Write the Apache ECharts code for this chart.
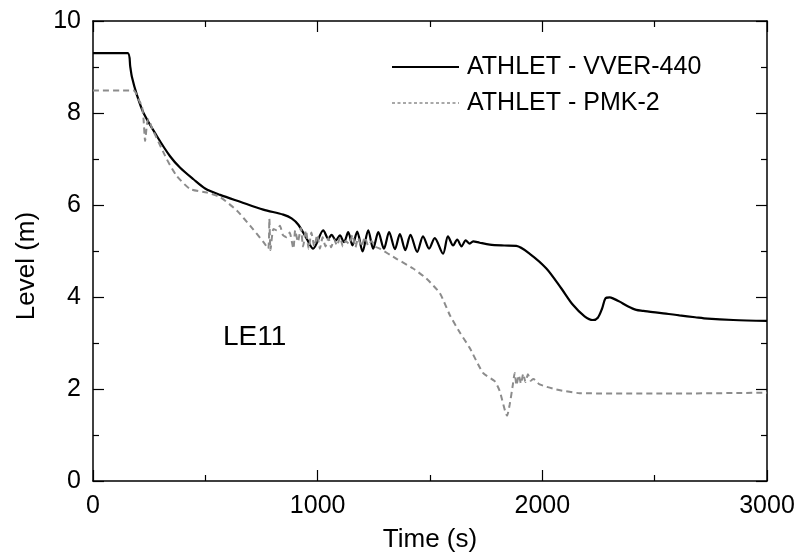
<!DOCTYPE html>
<html>
<head>
<meta charset="utf-8">
<script src="https://cdn.jsdelivr.net/npm/echarts@6/dist/echarts.min.js"></script>
<style>html,body{margin:0;padding:0;background:#fff}#c{width:806px;height:558px}</style>
</head>
<body>
<div id="c"></div>
<script>
var xTicks = [0, 1000, 2000, 3000];
var yTicks = [0, 2, 4, 6, 8, 10];
var seriesNames = ['ATHLET - VVER-440', 'ATHLET - PMK-2'];
var caseLabel = 'LE11';

var vverT = [0, 154, 166, 173, 195, 225, 284, 343, 388, 447, 499, 566, 655, 758, 847, 884, 914, 951, 980,
  1025, 1047, 1062, 1081, 1099, 1117, 1136, 1155, 1176, 1200, 1225, 1247, 1270, 1295, 1318, 1344, 1366, 1390,
  1413, 1443, 1469, 1496, 1521, 1558, 1580, 1603, 1621, 1640, 1659, 1677, 1692, 1721, 1766, 1830, 1884, 1944,
  2018, 2084, 2136, 2188, 2225, 2247, 2266, 2281, 2300, 2314, 2344, 2380, 2418, 2450, 2492, 2550, 2610, 2680, 2736, 2850, 3000];
var vverL = [9.30, 9.30, 9.00, 8.79, 8.40, 8.00, 7.50, 7.06, 6.81, 6.56, 6.36, 6.22, 6.07, 5.90, 5.79, 5.71, 5.57, 5.27, 5.05,
  5.45, 5.27, 5.35, 5.23, 5.34, 5.19, 5.41, 5.12, 5.42, 4.99, 5.45, 5.05, 5.41, 5.05, 5.41, 5.04, 5.37, 5.02,
  5.35, 4.98, 5.32, 5.05, 5.28, 4.94, 5.32, 5.12, 5.25, 5.10, 5.23, 5.16, 5.21, 5.18, 5.14, 5.12, 5.11, 4.94,
  4.62, 4.19, 3.83, 3.58, 3.50, 3.55, 3.75, 3.97, 3.99, 3.97, 3.90, 3.80, 3.72, 3.70, 3.67, 3.64, 3.60, 3.56, 3.53, 3.50, 3.48];

var pmkT = [0, 181, 203, 218, 225, 232, 240, 247, 262, 329, 373, 432, 507, 566, 640, 699, 758, 780, 785, 790,
  803, 818, 832, 845, 862, 875, 892, 900, 912, 925, 935, 948, 960, 972, 985, 998, 1010, 1022, 1035, 1048, 1060,
  1073, 1086, 1100, 1112, 1125, 1140, 1155, 1168, 1180, 1195, 1210, 1225, 1240, 1255, 1277, 1351, 1425, 1484,
  1544, 1588, 1630, 1677, 1736, 1788, 1810, 1843, 1855, 1869, 1877, 1885, 1895, 1905, 1915, 1925, 1936, 1948,
  1960, 1988, 2062, 2166, 2536, 3000];
var pmkL = [8.49, 8.49, 8.29, 8.14, 7.86, 7.39, 7.75, 7.86, 7.68, 6.99, 6.63, 6.35, 6.27, 6.17, 5.88, 5.55, 5.20, 5.05, 5.70, 5.02,
  5.48, 5.45, 5.55, 5.35, 5.30, 5.40, 5.05, 5.45, 5.20, 5.50, 5.10, 5.45, 5.05, 5.40, 5.10, 5.35, 5.05, 5.30, 5.10, 5.28, 5.08,
  5.25, 5.12, 5.30, 5.10, 5.22, 5.15, 5.35, 5.08, 5.28, 5.10, 5.30, 5.12, 5.22, 5.10, 5.05, 4.83, 4.62, 4.40,
  4.08, 3.61, 3.25, 2.89, 2.35, 2.17, 1.96, 1.42, 1.67, 2.10, 2.35, 2.08, 2.30, 2.12, 2.33, 2.15, 2.32, 2.18,
  2.22, 2.10, 1.99, 1.91, 1.90, 1.92];

function zip(a, b) { var r = []; for (var i = 0; i < a.length; i++) r.push([a[i], b[i]]); return r; }

var FONT = '"Liberation Sans", Arial, sans-serif';
var BLACK = '#000';
var GRAY = '#8c8c8c';
var axisCommon = {
  axisLine: { show: true, onZero: false, lineStyle: { color: '#000', width: 1.5 } },
  axisTick: { show: true, inside: true, length: 11, lineStyle: { color: '#000', width: 1.2 } },
  minorTick: { show: true, splitNumber: 2, length: 6, lineStyle: { color: '#000', width: 1.2 } },
  splitLine: { show: false },
  minorSplitLine: { show: false }
};
function ax(extra) { return Object.assign({}, JSON.parse(JSON.stringify(axisCommon)), extra); }
function plain(v) { return String(v); }

var chart = echarts.init(document.getElementById('c'), null, { renderer: 'canvas' });
chart.setOption({
  animation: false,
  backgroundColor: '#fff',
  grid: { left: 93, right: 39, top: 21, bottom: 74, containLabel: false },
  xAxis: [
    ax({ type: 'value', min: xTicks[0], max: xTicks[xTicks.length - 1], interval: 1000, position: 'bottom',
      name: 'Time (s)', nameLocation: 'middle', nameGap: 46,
      nameTextStyle: { fontFamily: FONT, fontSize: 26, color: '#000' },
      axisLabel: { show: true, margin: 13, fontFamily: FONT, fontSize: 25, color: '#000', formatter: plain } }),
    ax({ type: 'value', min: xTicks[0], max: xTicks[xTicks.length - 1], interval: 1000, position: 'top',
      axisLabel: { show: false } })
  ],
  yAxis: [
    ax({ type: 'value', min: yTicks[0], max: yTicks[yTicks.length - 1], interval: 2, position: 'left',
      axisLabel: { show: true, margin: 12, fontFamily: FONT, fontSize: 25, color: '#000', formatter: plain } }),
    ax({ type: 'value', min: yTicks[0], max: yTicks[yTicks.length - 1], interval: 2, position: 'right',
      axisLabel: { show: false } })
  ],
  graphic: [
    { type: 'line', shape: { x1: 392, y1: 67, x2: 459, y2: 67 }, style: { stroke: BLACK, lineWidth: 2 } },
    { type: 'text', x: 467, y: 67, style: { text: seriesNames[0], font: '25px ' + FONT, fill: '#000', verticalAlign: 'middle' } },
    { type: 'line', shape: { x1: 392, y1: 103, x2: 459, y2: 103 }, style: { stroke: GRAY, lineWidth: 1.3, lineDash: [3, 2.5] } },
    { type: 'text', x: 467, y: 103, style: { text: seriesNames[1], font: '25px ' + FONT, fill: '#000', verticalAlign: 'middle' } },
    { type: 'text', left: 223, top: 323, style: { text: caseLabel, font: '28px ' + FONT, fill: '#000' } },
    { type: 'text', x: 27, y: 266, rotation: Math.PI / 2,
      style: { text: 'Level (m)', font: '26px ' + FONT, fill: '#000', align: 'center', verticalAlign: 'middle' } }
  ],
  series: [
    { name: seriesNames[0], type: 'line', data: zip(vverT, vverL), symbol: 'none', smooth: 0.3,
      lineStyle: { color: BLACK, width: 2.2 }, itemStyle: { color: BLACK } },
    { name: seriesNames[1], type: 'line', data: zip(pmkT, pmkL), symbol: 'none', smooth: 0.2,
      lineStyle: { color: GRAY, width: 2, type: [6, 4] }, itemStyle: { color: GRAY } }
  ]
});
</script>
</body>
</html>
